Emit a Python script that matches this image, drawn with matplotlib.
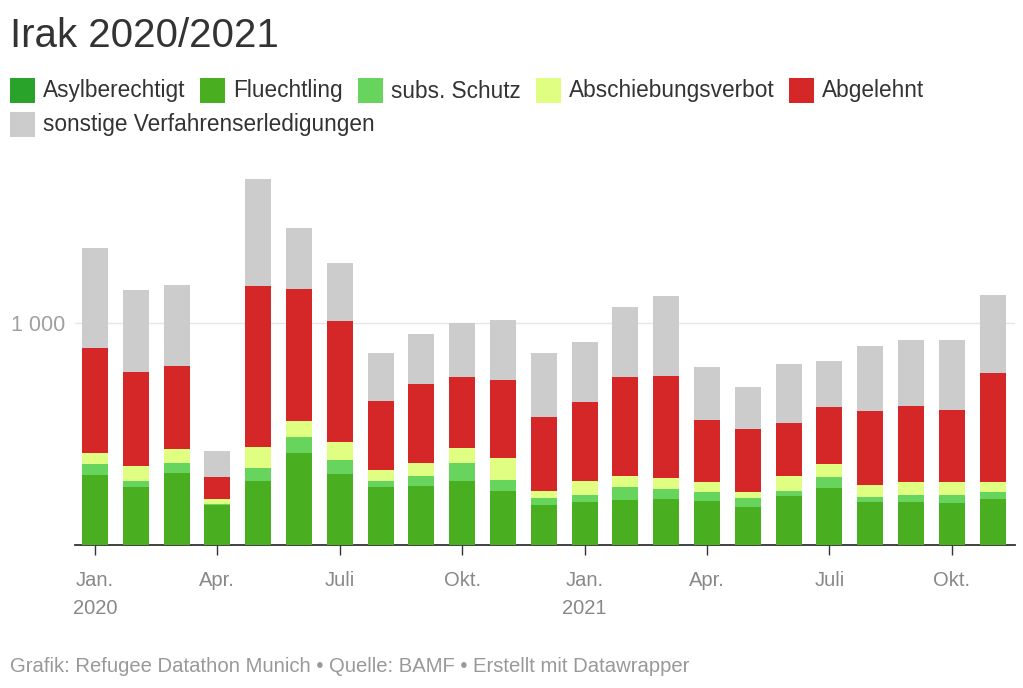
import numpy as np
import matplotlib.pyplot as plt
from matplotlib.patches import Rectangle

plt.rcParams['font.family'] = ['Liberation Sans', 'DejaVu Sans']

# Monthly decisions Iraq, Jan 2020 - Nov 2021
tick_pos = [0, 3, 6, 9, 12, 15, 18, 21]
tick_labels = ['Jan.\n2020', 'Apr.', 'Juli', 'Okt.', 'Jan.\n2021', 'Apr.', 'Juli', 'Okt.']

asyl = [0, 0, 0, 0, 0, 0, 0, 0, 0, 0, 0, 0, 0, 0, 0, 0, 0, 0, 0, 0, 0, 0, 0]
fluechtling = [315, 263, 324, 179, 287, 416, 321, 263, 266, 287, 245, 182,
               194, 203, 207, 200, 173, 219, 257, 195, 195, 191, 207]
subs = [50, 27, 45, 7, 58, 72, 62, 24, 45, 82, 49, 31,
        33, 58, 45, 40, 37, 26, 49, 21, 32, 36, 33]
abschiebung = [51, 67, 63, 20, 96, 71, 82, 49, 58, 68, 96, 32,
               60, 50, 50, 45, 30, 66, 60, 53, 58, 58, 45]
abgelehnt = [473, 424, 374, 102, 726, 594, 543, 311, 356, 318, 353, 330,
             359, 444, 458, 278, 281, 239, 256, 336, 341, 325, 491]
sonstige = [447, 368, 364, 115, 480, 276, 262, 218, 227, 243, 271, 290,
            268, 319, 360, 237, 192, 264, 208, 291, 296, 312, 352]

series = [
    ('Asylberechtigt', asyl, '#29a329'),
    ('Fluechtling', fluechtling, '#4aaf20'),
    ('subs. Schutz', subs, '#67d45e'),
    ('Abschiebungsverbot', abschiebung, '#e0ff82'),
    ('Abgelehnt', abgelehnt, '#d62728'),
    ('sonstige Verfahrenserledigungen', sonstige, '#cccccc'),
]

W, H = 1023, 688
fig = plt.figure(figsize=(W / 100, H / 100), dpi=100)
ax = fig.add_axes([75 / W, 1 - 545 / H, 940 / W, 377.4 / H])

x = np.arange(len(fluechtling))
bottom = np.zeros(len(x))
for name, vals, col in series:
    vals = np.array(vals, dtype=float)
    ax.bar(x, vals, bottom=bottom, width=0.64, color=col, linewidth=0, zorder=3)
    bottom += vals

ax.set_xlim(-0.49, 22.55)
ax.set_ylim(0, 1700)

ax.set_yticks([1000])
ax.set_yticklabels(['1 000'])
ax.grid(axis='y', color='#e6e6e6', linewidth=1, zorder=0)
ax.tick_params(axis='y', length=0, pad=7, labelsize=15.5, labelcolor='#a0a0a0')

ax.set_xticks(tick_pos)
ax.set_xticklabels(tick_labels, linespacing=1.55)
ax.tick_params(axis='x', length=7, width=1, color='#333333', pad=12,
               labelsize=14.5, labelcolor='#888888')
for lbl in ax.get_xticklabels():
    lbl.set_verticalalignment('top')

for s in ['top', 'right', 'left']:
    ax.spines[s].set_visible(False)
ax.spines['bottom'].set_color('#333333')
ax.spines['bottom'].set_linewidth(1.3)

# title
fig.text(10 / W, 1 - 47 / H, 'Irak 2020/2021', fontsize=29, color='#333333', va='baseline')

# legend (manual, wrapped like the original)
fig.canvas.draw()
renderer = fig.canvas.get_renderer()
sw = 25
lx, row = 10, 0
rows_y = [78, 112]
for name, vals, col in series:
    t = fig.text(0, 0, name, fontsize=16.3, color='#333333', va='baseline')
    tw = t.get_window_extent(renderer).width
    if lx + sw + 9 + tw > 1010:
        row += 1
        lx = 10
    y0 = rows_y[row]
    fig.patches.append(Rectangle((lx / W, 1 - (y0 + sw) / H), sw / W, sw / H,
                                 transform=fig.transFigure, facecolor=col, edgecolor='none'))
    t.set_position(((lx + sw + 8) / W, 1 - (y0 + 19.5) / H))
    lx += sw + 8 + tw + 15

fig.text(10 / W, 1 - 672 / H,
         'Grafik: Refugee Datathon Munich \u2022 Quelle: BAMF \u2022 Erstellt mit Datawrapper',
         fontsize=14.6, color='#999999', va='baseline')

fig.savefig('out.png', dpi=100, facecolor='white')
